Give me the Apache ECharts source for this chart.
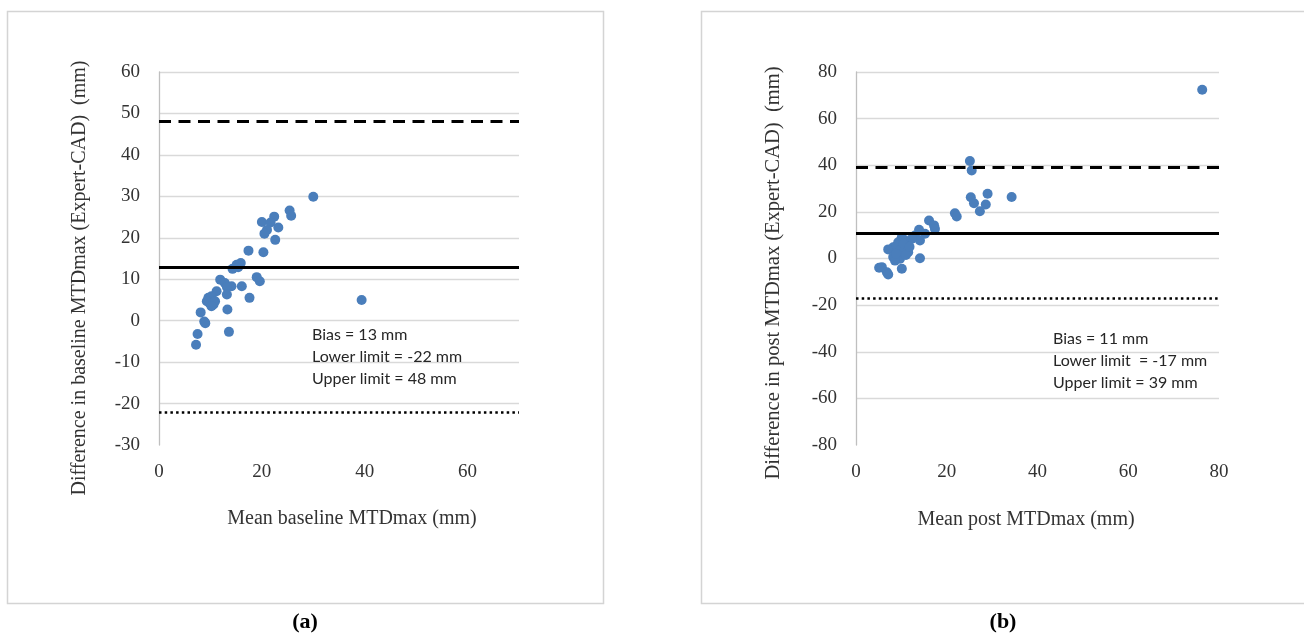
<!DOCTYPE html>
<html>
<head>
<meta charset="utf-8">
<script src="https://cdn.jsdelivr.net/npm/echarts@6/dist/echarts.min.js"></script>
<style>
html,body{margin:0;padding:0;background:#fff;}
#chart{width:1304px;height:634px;}
</style>
</head>
<body>
<div id="chart"></div>
<script>
// ---- Data ----
// Panel (a): baseline
const baselineMean = [30.0, 25.4, 25.7, 22.4, 23.2, 20.0, 21.7, 21.0, 20.5, 22.6, 17.4, 20.3,
  14.3, 15.1, 15.9, 15.4, 19.0, 19.6, 11.9, 12.8, 14.1, 13.2, 16.1, 11.2, 13.2, 17.6,
  9.6, 10.2, 9.8, 10.6, 9.3, 10.9, 10.2, 13.3, 8.1, 8.8, 9.0, 13.6, 7.5, 7.2, 39.4];
const baselineDiff = [29.9, 26.6, 25.3, 25.1, 22.5, 23.8, 23.7, 21.9, 21.0, 19.5, 16.9, 16.5,
  12.5, 13.5, 13.9, 12.9, 10.5, 9.5, 9.9, 9.1, 8.3, 8.1, 8.3, 7.1, 6.3, 5.5,
  5.5, 5.9, 4.3, 3.9, 4.7, 4.7, 3.5, 2.7, 2.0, -0.2, -0.6, -2.7, -3.2, -5.8, 5.0];
const baselineBias = 13, baselineLower = -22, baselineUpper = 48;

// Panel (b): post
const postMean = [76.3, 25.1, 25.5, 25.3, 26.0, 29.0, 28.6, 27.3, 34.3, 21.8, 22.2, 16.1, 17.2,
  17.4, 13.9, 15.2, 13.0, 14.1, 12.3, 14.1, 10.8, 10.1, 9.3, 10.8, 8.2, 7.1, 9.3, 11.5,
  8.2, 9.7, 8.6, 10.1, 5.1, 5.7, 6.8, 7.1, 10.4, 9.0, 9.8, 10.5, 8.8, 11.0, 11.8];
const postDiff = [72.4, 41.8, 37.8, 26.3, 23.7, 27.8, 23.2, 20.3, 26.4, 19.4, 18.0, 16.3, 14.2,
  12.7, 12.3, 10.6, 9.9, 7.7, 8.5, 0.1, 7.7, 9.1, 7.0, 4.8, 4.8, 3.9, 2.7, 2.7,
  0.6, -0.1, -0.9, -4.4, -4.0, -3.7, -5.9, -6.9, 5.6, 5.5, 3.5, 6.3, 2.0, 1.5, 5.0];
const postBias = 11, postLower = -17, postUpper = 39;

// Axis ticks
const leftYTicks = [-30, -20, -10, 0, 10, 20, 30, 40, 50, 60];
const leftXTicks = [0, 20, 40, 60];
const rightYTicks = [-80, -60, -40, -20, 0, 20, 40, 60, 80];
const rightXTicks = [0, 20, 40, 60, 80];

// Text
const leftYTitle = 'Difference in baseline MTDmax (Expert-CAD)  (mm)';
const leftXTitle = 'Mean baseline MTDmax (mm)';
const rightYTitle = 'Difference in post MTDmax (Expert-CAD)  (mm)';
const rightXTitle = 'Mean post MTDmax (mm)';
const leftNotes = ['Bias = 13 mm', 'Lower limit = -22 mm', 'Upper limit = 48 mm'];
const rightNotes = ['Bias = 11 mm', 'Lower limit  = -17 mm', 'Upper limit = 39 mm'];

// ---- Styling ----
const SERIF = '"Liberation Serif", "DejaVu Serif", serif';
const SANS = 'Lato, "Noto Sans", sans-serif';
const DOT = '#4a7ebb';
const GRID = '#d9d9d9';
const TXT = '#333333';

function zip(a, b) { return a.map((v, i) => [v, b[i]]); }
function gridColors(n) { const c = []; for (let i = 0; i < n; i++) c.push(i === 0 ? 'rgba(0,0,0,0)' : GRID); return c; }

function makeY(idx, ticks) {
  return {
    gridIndex: idx, type: 'value',
    min: ticks[0], max: ticks[ticks.length - 1], interval: ticks[1] - ticks[0],
    axisLine: { show: true, onZero: false, lineStyle: { color: '#bfbfbf', width: 1.3 } },
    axisTick: { show: false },
    axisLabel: { color: TXT, fontFamily: SERIF, fontSize: 19, margin: 19 },
    splitLine: { show: true, lineStyle: { color: gridColors(ticks.length), width: 1.3 } }
  };
}
function makeX(idx, ticks, max) {
  return {
    gridIndex: idx, type: 'value',
    min: 0, max: max, interval: ticks[1] - ticks[0],
    axisLine: { show: false }, axisTick: { show: false },
    axisLabel: { color: TXT, fontFamily: SERIF, fontSize: 19, margin: 18,
      formatter: v => (ticks.indexOf(v) >= 0 ? String(v) : '') },
    splitLine: { show: false }
  };
}
function limitLines(bias, lower, upper) {
  return {
    silent: true, symbol: 'none', label: { show: false },
    data: [
      { yAxis: upper, lineStyle: { color: '#000', width: 3, type: [12, 7.5] } },
      { yAxis: bias, lineStyle: { color: '#000', width: 3, type: 'solid' } },
      { yAxis: lower, lineStyle: { color: '#000', width: 2.5, type: [2.5, 3.2] } }
    ]
  };
}
function notes(lines, x, y0, dy) {
  return lines.map((t, i) => ({
    type: 'text', left: x, top: y0 + i * dy, z: 100,
    style: { text: t, fill: '#262626', font: '16px ' + SANS }
  }));
}

const chart = echarts.init(document.getElementById('chart'), null, { renderer: 'canvas' });
chart.setOption({
  animation: false,
  backgroundColor: '#ffffff',
  grid: [
    { left: 159, top: 72, width: 360, height: 373, containLabel: false },
    { left: 856, top: 72, width: 363, height: 373, containLabel: false }
  ],
  xAxis: [makeX(0, leftXTicks, 70), makeX(1, rightXTicks, 80)],
  yAxis: [makeY(0, leftYTicks), makeY(1, rightYTicks)],
  series: [
    { type: 'scatter', xAxisIndex: 0, yAxisIndex: 0, data: zip(baselineMean, baselineDiff),
      symbolSize: 10, itemStyle: { color: DOT, opacity: 1 }, z: 3,
      markLine: limitLines(baselineBias, baselineLower, baselineUpper) },
    { type: 'scatter', xAxisIndex: 1, yAxisIndex: 1, data: zip(postMean, postDiff),
      symbolSize: 10, itemStyle: { color: DOT, opacity: 1 }, z: 3,
      markLine: limitLines(postBias, postLower, postUpper) }
  ],
  graphic: [
    { type: 'rect', shape: { x: 7.5, y: 11.5, width: 596, height: 592 }, z: -10,
      style: { fill: 'none', stroke: '#d4d4d4', lineWidth: 1.5 } },
    { type: 'rect', shape: { x: 701.5, y: 11.5, width: 620, height: 592 }, z: -10,
      style: { fill: 'none', stroke: '#d4d4d4', lineWidth: 1.5 } },
    { type: 'text', x: 80, y: 278, rotation: Math.PI / 2, z: 50,
      style: { text: leftYTitle, fill: TXT, font: '20px ' + SERIF, textAlign: 'center', textVerticalAlign: 'middle' } },
    { type: 'text', x: 774, y: 273, rotation: Math.PI / 2, z: 50,
      style: { text: rightYTitle, fill: TXT, font: '20.5px ' + SERIF, textAlign: 'center', textVerticalAlign: 'middle' } },
    { type: 'text', x: 352, y: 519, z: 50,
      style: { text: leftXTitle, fill: TXT, font: '20px ' + SERIF, textAlign: 'center', textVerticalAlign: 'middle' } },
    { type: 'text', x: 1026, y: 520, z: 50,
      style: { text: rightXTitle, fill: TXT, font: '20px ' + SERIF, textAlign: 'center', textVerticalAlign: 'middle' } },
    { type: 'text', x: 305, y: 622, z: 50,
      style: { text: '(a)', fill: '#000', font: 'bold 22px ' + SERIF, textAlign: 'center', textVerticalAlign: 'middle' } },
    { type: 'text', x: 1003, y: 622, z: 50,
      style: { text: '(b)', fill: '#000', font: 'bold 22px ' + SERIF, textAlign: 'center', textVerticalAlign: 'middle' } }
  ].concat(notes(leftNotes, 312, 327, 22)).concat(notes(rightNotes, 1053, 331, 22))
});
</script>
</body>
</html>
